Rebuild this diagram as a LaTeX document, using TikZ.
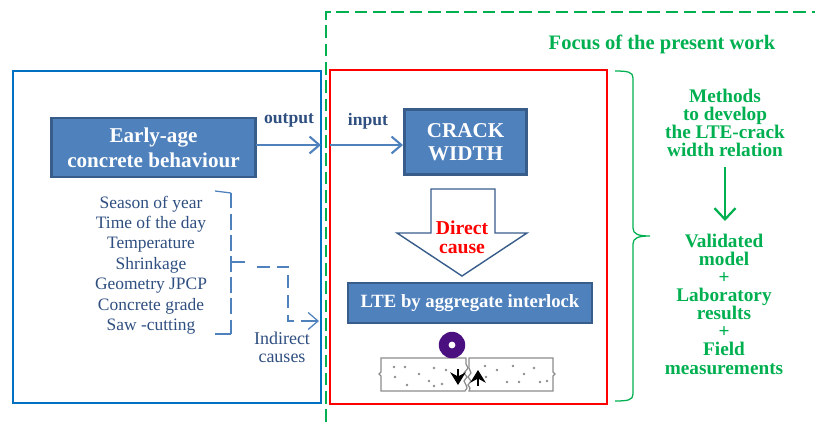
\documentclass[tikz,border=0pt]{standalone}
\usepackage{fontspec}
\setmainfont{Liberation Serif}
\usetikzlibrary{arrows.meta}
\definecolor{boxfill}{HTML}{4F81BD}
\definecolor{boxline}{HTML}{385D8A}
\definecolor{navytext}{HTML}{2F4F80}
\definecolor{greenline}{HTML}{00B050}
\definecolor{blueline}{HTML}{0070C0}
\definecolor{loadcolor}{HTML}{4B1080}
\definecolor{slabline}{HTML}{8C8C8C}
\begin{document}
\begin{tikzpicture}[x=0.025cm,y=-0.025cm,
main box/.style={rectangle,draw=boxline,fill=boxfill,line width=1.8pt,text=white,font=\fontsize{15}{18}\selectfont\bfseries,align=center,inner sep=0pt},
side text/.style={text=navytext,font=\fontsize{12.4}{14.5}\selectfont,align=center,inner sep=0pt},
green text/.style={text=greenline,font=\fontsize{13.7}{12.9}\selectfont\bfseries,align=center,inner sep=0pt},
small label/.style={text=navytext,font=\fontsize{12.5}{14}\selectfont\bfseries,inner sep=0pt},
flow/.style={draw=boxfill,line width=1.5pt,-{Straight Barb[length=7pt,width=12pt,line width=1.5pt]}}]
\useasboundingbox (0,0) rectangle (815,422);
%frames
\node[draw=blueline,line width=1.6pt,inner sep=0pt,minimum width=7.7cm,minimum height=8.3cm] (leftframe) at (167,237) {};
\node[draw=red,line width=1.6pt,inner sep=0pt,minimum width=6.925cm,minimum height=8.35cm] (rightframe) at (468.5,237) {};
\coordinate (focusa) at (326,422);
\coordinate (focusb) at (326,12);
\coordinate (focusc) at (815,12);
\draw[greenline,line width=1pt,dash pattern=on 9pt off 4pt] (focusa) -- (focusb) -- (focusc);
\node[green text,font=\fontsize{14.6}{16}\selectfont\bfseries] (focus) at (662,44) {Focus of the present work};
%boxes
\node[main box,minimum width=5.1cm,minimum height=1.47cm] (early) at (153.5,147.5) {Early-age\\concrete behaviour};
\node[main box,font=\fontsize{15}{16.5}\selectfont\bfseries,minimum width=3.05cm,minimum height=1.62cm] (crack) at (465.5,142) {CRACK\\WIDTH};
\node[main box,minimum width=6.1cm,minimum height=1cm,font=\fontsize{13.3}{15}\selectfont\bfseries] (lte) at (470,303) {LTE by aggregate interlock};
%output and input
\coordinate (outstart) at (256,145);
\coordinate (outend) at (321,145);
\coordinate (instart) at (330,145);
\coordinate (inend) at (403,145);
\draw[flow] (outstart) -- (outend);
\draw[flow] (instart) -- (inend);
\node[small label] (output) at (289,120) {output};
\node[small label] (input) at (368,121) {input};
%direct cause
\draw[boxline,line width=1pt,fill=white] (431,189) -- (495,189) -- (495,233) -- (527,233) -- (462,276) -- (397,233) -- (431,233) -- cycle;
\node[text=red,font=\fontsize{14}{13.5}\selectfont\bfseries,align=center,inner sep=0pt] (direct) at (462,237) {Direct\\cause};
%indirect causes
\node[side text] (causes) at (151,265) {Season of year\\Time of the day\\Temperature\\Shrinkage\\Geometry JPCP\\Concrete grade\\Saw -cutting};
\coordinate (bracka) at (215,191);
\coordinate (brackb) at (231,193);
\coordinate (brackc) at (231,334);
\coordinate (brackd) at (215,334);
\coordinate (brackm) at (231,262);
\coordinate (stub) at (245,262);
\coordinate (bend) at (257,267);
\coordinate (corner) at (288,267);
\coordinate (low) at (288,321);
\coordinate (lowend) at (319,321);
\draw[boxfill,line width=.9pt] (bracka) -- (brackb);
\draw[boxfill,line width=.9pt,dash pattern=on 11pt off 4pt] (brackb) -- (brackc);
\draw[boxfill,line width=.9pt] (brackc) -- (brackd);
\draw[boxfill,line width=.9pt] (brackm) -- (stub);
\draw[boxfill,line width=.9pt,dash pattern=on 9pt off 5pt] (bend) -- (corner) -- (low) -- (lowend);
\draw[boxfill,line width=.9pt,-{Straight Barb[length=7pt,width=12pt,line width=.9pt]}] (low) ++(14,0) -- (lowend);
\node[side text,font=\fontsize{12.8}{13}\selectfont] (indirect) at (282,347) {Indirect\\causes};
%concrete slabs
\draw[slabline,line width=.9pt] (466,358) -- (381,358) -- (381,372) -- (379,374) -- (381,376) -- (381,391) -- (465,391) -- (467,388) -- (466,385) -- (464,381) -- (467,377) -- (464,373) -- (468,368) -- (466,364) -- cycle;
\draw[slabline,line width=.9pt] (469,358) -- (553,358) -- (553,372) -- (555,374) -- (553,376) -- (553,391) -- (469,391) -- (470,388) -- (468,385) -- (471,381) -- (468,377) -- (471,373) -- (469,368) -- (469,364) -- cycle;
\foreach \dotx/\doty in {394/367,405/367,419/374,434/368,446/370,395/377,407/385,429/381,442/384,485/366,497/370,513/366,534/368,486/377,507/382,519/382,540/382,434/386,547/381,524/374}
  \fill[slabline] (\dotx,\doty) circle (.9pt);
\node[circle,fill=loadcolor,minimum size=.66cm,inner sep=0pt] (load) at (452,345) {};
\node[circle,fill=white,minimum size=.17cm,inner sep=0pt] (loadhole) at (load) {};
\coordinate (downa) at (458,369);
\coordinate (downb) at (458,385);
\coordinate (upa) at (478,386);
\coordinate (upb) at (478,370);
\draw[line width=2pt,-{Stealth[length=9pt,width=11pt]}] (downa) -- (downb);
\draw[line width=2pt,-{Stealth[length=9pt,width=11pt]}] (upa) -- (upb);
%green side
\coordinate (bracetop) at (615,71);
\coordinate (bracebot) at (615,401);
\coordinate (bracetip) at (650,236);
\draw[greenline,line width=.9pt] (bracetop) .. controls (628,71) and (633,72) .. (633,78) -- (633,228) .. controls (633,234) and (638,236) .. (bracetip) .. controls (638,236) and (633,238) .. (633,244) -- (633,394) .. controls (633,400) and (628,401) .. (bracebot);
\node[green text] (methods) at (725,123) {Methods\\to develop\\the LTE-crack\\width relation};
\node[green text] (validated) at (724,304) {Validated\\model\\+\\Laboratory\\results\\+\\Field\\measurements};
\coordinate (greenstart) at (725,167);
\coordinate (greenend) at (725,221);
\draw[greenline,line width=1.6pt,-{Straight Barb[length=8pt,width=15pt,line width=1.6pt]}] (greenstart) -- (greenend);
\end{tikzpicture}
\end{document}
